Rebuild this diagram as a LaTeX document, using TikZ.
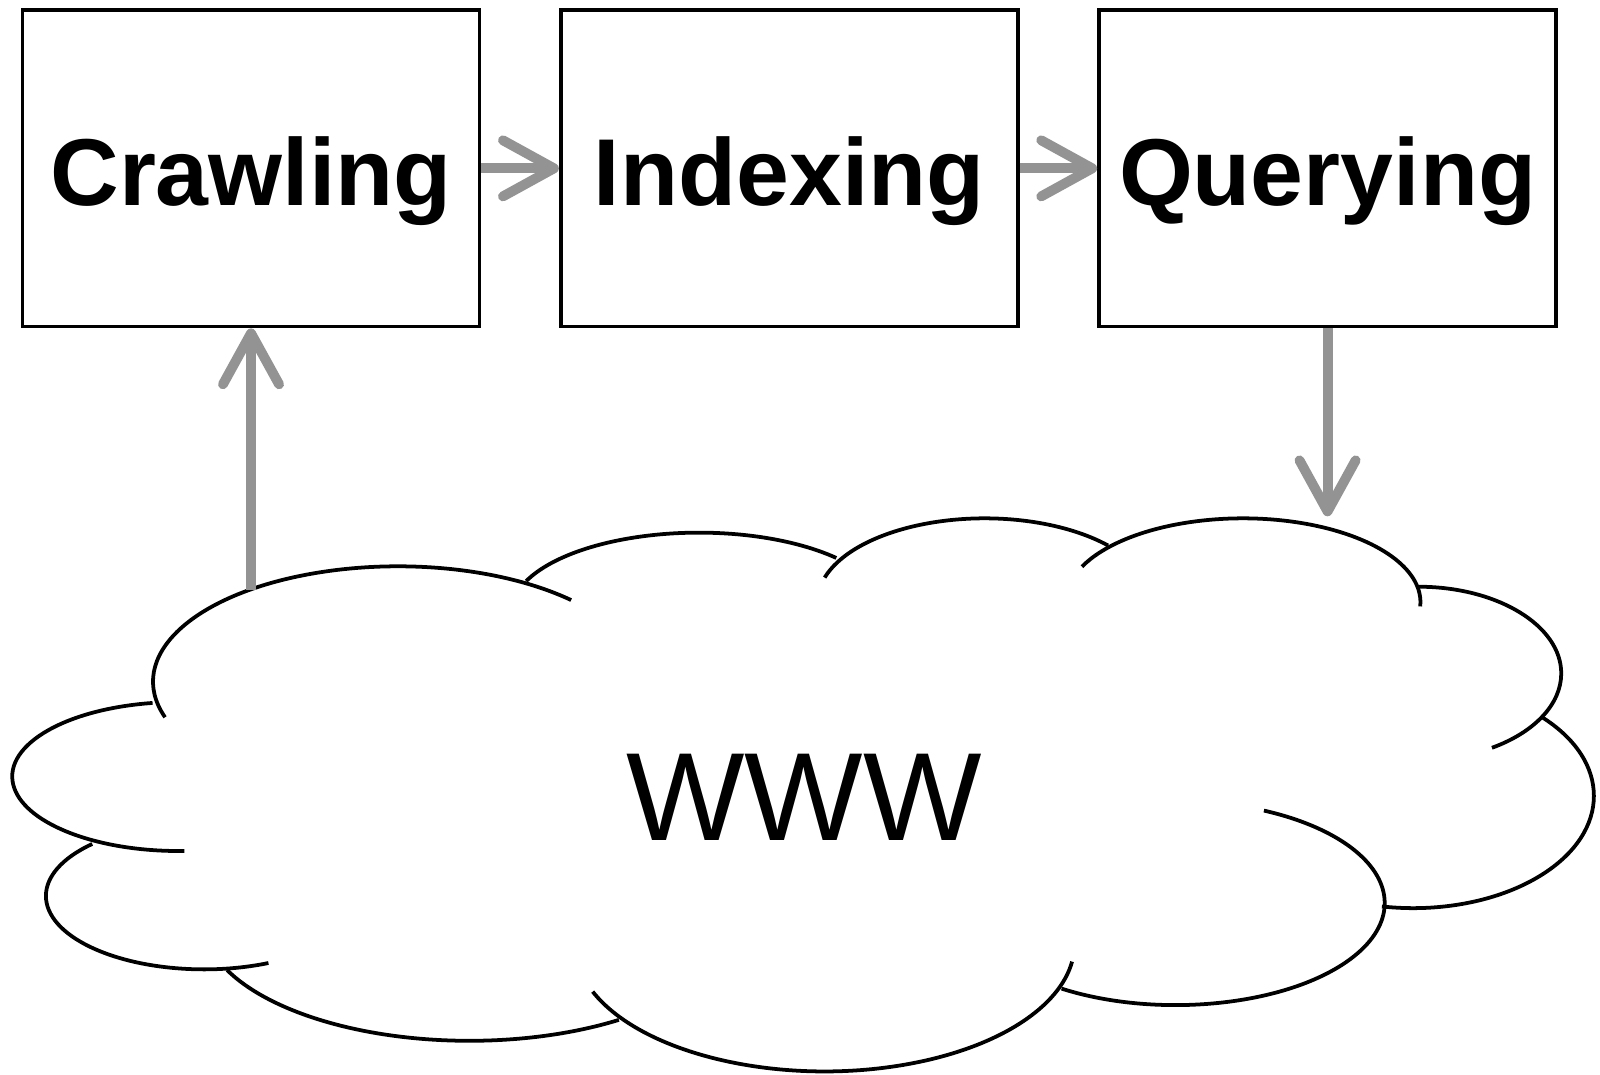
\documentclass[tikz,border=0pt]{standalone}
\usepackage{fontspec}
\setmainfont{Liberation Sans}
\usetikzlibrary{arrows.meta}
\definecolor{flowgray}{RGB}{147,147,147}

\begin{document}
\begin{tikzpicture}[x=0.02cm, y=0.02cm,
    stage/.style={draw=black, line width=2.1pt, minimum width=8.96cm, minimum height=6.2cm,
        text height=42pt, text depth=0pt, font=\fontsize{53}{60}\selectfont\bfseries},
    flow/.style={flowgray, line width=5.5pt, -{Straight Barb[length=1cm, width=1.1cm, round]}},
    cloudline/.style={black, line width=2.1pt}]
    \useasboundingbox (0,0) rectangle (1568,1053);

    % The three stages of the pipeline
    \foreach \name/\txt [count=\i from 0] in {crawl/Crawling, index/Indexing, quer/Querying} {
        \node[stage] (\name) at (246+527.5*\i, 888) {\txt};
    }

    % Cloud outline built from elliptic lobes: centre x/y, radii, start/end angle
    \foreach \cx/\cy/\rx/\ry/\ta/\tb in {
        390/385/240/113/198/45,
        175/292/163/73/99/272,
        200/175/155/72/135/294,
        460/153/262/120/205/304,
        808/128/245/125/202/352,
        1152/168/205/100/237/425,
        1385/273/177/110/45/-100,
        1390/393/140/85/90/-59,
        1218/463/174/82/155/-3,
        965/463/164/82/163/42.5,
        685/453/184/78/157/43} {
        \draw[cloudline] ({\cx+\rx*cos(\ta)}, {\cy+\ry*sin(\ta)})
            arc[start angle=\ta, end angle=\tb, x radius=\rx, y radius=\ry];
    }
    \node[font=\fontsize{70}{84}\selectfont] (www) at (788,272) {WWW};

    % Connectors
    \coordinate (webtop) at (246,475);
    \coordinate (webtip) at (1301,547);
    \draw[flow] (crawl.east) -- (index.west);
    \draw[flow] (index.east) -- (quer.west);
    \draw[flow] (webtop) -- (crawl.south);
    \draw[flow] (quer.south) -- (webtip);
\end{tikzpicture}
\end{document}
